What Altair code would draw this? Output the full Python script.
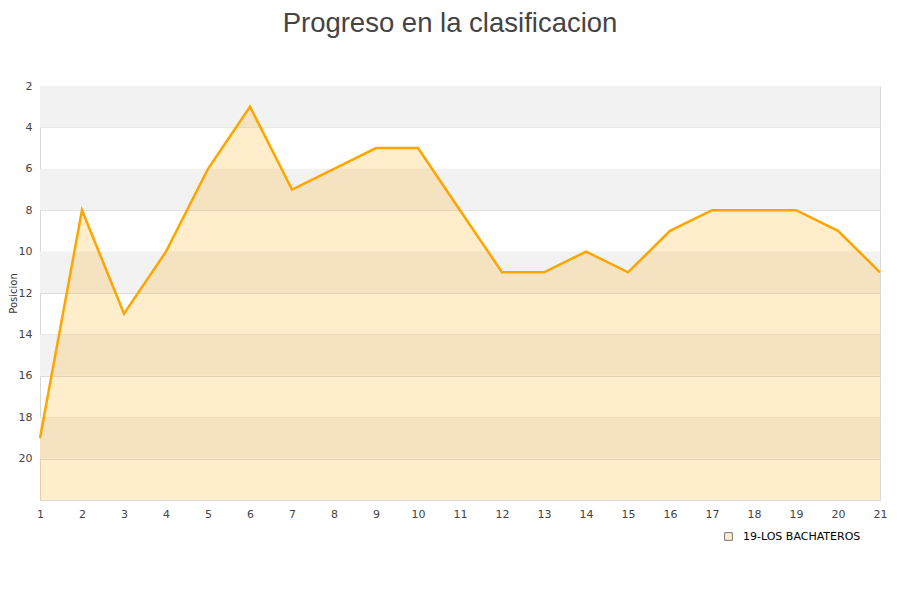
import altair as alt
import pandas as pd

jornadas = list(range(1, 22))
posiciones = [19, 8, 13, 10, 6, 3, 7, 6, 5, 5, 8, 11, 11, 10, 11, 9, 8, 8, 8, 9, 11]
equipo = "19-LOS BACHATEROS"
banda_inicio = [2, 6, 10, 14, 18]

df = pd.DataFrame({"jornada": jornadas, "posicion": posiciones, "equipo": equipo})
bandas = pd.DataFrame({"lo": banda_inicio, "hi": [b + 2 for b in banda_inicio]})

x_scale = alt.Scale(domain=[1, 21], nice=False, zero=False)
y_scale = alt.Scale(domain=[2, 22], reverse=True, nice=False, zero=False)

x_axis = alt.Axis(
    values=jornadas, format="d", ticks=False, domain=False, grid=False,
    labelPadding=8, labelFont="DejaVu Sans", labelFontSize=11, labelColor="#444",
    labelFlush=False, title=None,
)
y_axis = alt.Axis(
    values=list(range(2, 21, 2)), ticks=False, domain=False, grid=True,
    gridColor="#dddddd", labelPadding=8, labelFont="DejaVu Sans",
    labelFontSize=11, labelColor="#444", title="Posicion",
    titleFont="DejaVu Sans", titleFontSize=10, titleFontWeight="normal",
    titleColor="#333", titleX=-32, titleY=207, titleAngle=-90,
    titleAlign="center", titleBaseline="top",
)

bands = (
    alt.Chart(bandas)
    .mark_rect(color="#f2f2f2")
    .encode(
        x=alt.datum(1, scale=x_scale, axis=x_axis),
        x2=alt.datum(21),
        y=alt.Y("lo:Q", scale=y_scale, axis=y_axis),
        y2="hi:Q",
    )
)

area = (
    alt.Chart(df)
    .mark_area()
    .encode(
        x=alt.X("jornada:Q", scale=x_scale, title=None),
        y=alt.Y("posicion:Q", scale=y_scale),
        y2=alt.datum(22),
        fill=alt.Fill(
            "equipo:N",
            scale=alt.Scale(range=["rgba(255,165,0,0.2)"]),
            legend=alt.Legend(
                title=None, orient="none", legendX=683, legendY=445,
                symbolType="square", symbolSize=60, symbolStrokeColor="#777",
                symbolStrokeWidth=1, labelFont="DejaVu Sans", labelFontSize=11,
                labelColor="#000", labelOffset=9, padding=0,
            ),
        ),
    )
)

line = (
    alt.Chart(df)
    .mark_line(color="#FFA500", strokeWidth=2.5)
    .encode(
        x=alt.X("jornada:Q", scale=x_scale, title=None),
        y=alt.Y("posicion:Q", scale=y_scale),
    )
)

chart = (
    alt.layer(bands, area, line)
    .properties(
        width=840,
        height=414,
        autosize=alt.AutoSizeParams(type="none"),
        padding={"left": 32, "top": 78, "right": 12, "bottom": 80},
        title=alt.TitleParams(
            "Progreso en la clasificacion", font="Liberation Sans", fontSize=27.5,
            fontWeight="normal", color="#444", anchor="middle", offset=43, dx=-10,
        ),
    )
    .configure_view(stroke="#d9d9d9")
)

chart.save("out.html", embed_options={"renderer": "svg", "actions": False})
